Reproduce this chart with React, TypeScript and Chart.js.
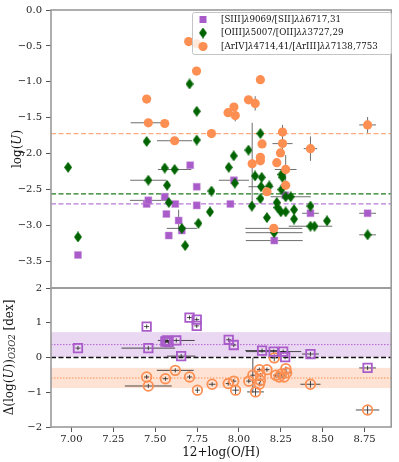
import { useEffect, useRef } from "react";
import { Chart, registerables } from "chart.js";
Chart.register(...registerables);

const FONT = "'DejaVu Serif', serif";

// ---- ticks ----
const xTicks = [7.0, 7.25, 7.5, 7.75, 8.0, 8.25, 8.5, 8.75];
const topTicks = [0, -0.5, -1, -1.5, -2, -2.5, -3, -3.5];
const bottomTicks = [2, 1, 0, -1, -2];

const legendLabels = [
  "[SIII]λ9069/[SII]λλ6717,31",
  "[OIII]λ5007/[OII]λλ3727,29",
  "[ArIV]λ4714,41/[ArIII]λλ7138,7753",
];

// ---- top panel: log(U) ----
const siiiX = [7.039, 7.449, 7.459, 7.557, 7.567, 7.581, 7.62, 7.64, 7.659, 7.709, 7.748, 7.748, 7.949, 7.97, 8.211, 8.276, 8.427, 8.768];
const siiiY = [-3.41, -2.70, -2.65, -2.60, -2.84, -3.14, -2.70, -2.93, -3.07, -2.16, -2.46, -2.72, -2.70, -2.37, -3.21, -2.58, -2.83, -2.83];
const siiiXerr = [0, 0, 0.11, 0, 0, 0, 0, 0, 0, 0, 0, 0, 0, 0.09, 0.17, 0, 0.05, 0.05];
const siiiYerr = [0, 0, 0, 0, 0, 0, 0, 0.15, 0, 0, 0, 0, 0, 0, 0, 0, 0, 0];

const oiiiX = [6.98, 7.039, 7.449, 7.459, 7.557, 7.571, 7.581, 7.616, 7.659, 7.679, 7.705, 7.748, 7.748, 7.758, 7.827, 7.836, 7.939, 7.969, 7.975, 8.057, 8.077, 8.096, 8.128, 8.128, 8.132, 8.136, 8.167, 8.181, 8.21, 8.226, 8.23, 8.25, 8.254, 8.254, 8.26, 8.279, 8.279, 8.309, 8.329, 8.329, 8.427, 8.427, 8.451, 8.526, 8.768];
const oiiiY = [-2.19, -3.16, -1.83, -2.37, -2.20, -2.44, -2.68, -2.22, -3.04, -3.28, -1.03, -1.41, -1.81, -2.97, -2.81, -2.52, -2.19, -2.03, -2.41, -1.95, -2.73, -2.31, -1.72, -2.625, -2.46, -2.33, -2.89, -2.45, -3.10, -2.68, -2.75, -2.81, -2.29, -2.50, -2.33, -2.60, -2.81, -2.60, -2.78, -2.91, -2.73, -3.01, -3.01, -2.935, -3.13];
const oiiiXerr = [0, 0, 0, 0.108, 0, 0, 0, 0.1, 0.09, 0, 0, 0, 0, 0, 0, 0, 0, 0, 0, 0, 0, 0, 0, 0, 0.075, 0, 0, 0, 0.17, 0, 0, 0, 0, 0, 0, 0, 0, 0.12, 0, 0, 0, 0.13, 0, 0, 0.05];
const oiiiYerr = [0, 0, 0, 0, 0, 0, 0, 0, 0, 0, 0, 0, 0, 0, 0, 0, 0, 0, 0, 0, 0, 0, 0, 0, 0, 0, 0, 0, 0, 0, 0, 0, 0, 0, 0, 0, 0, 0, 0, 0, 0, 0, 0, 0, 0];

const arivX = [7.70, 7.747, 7.747, 8.128, 7.449, 8.057, 8.097, 7.97, 7.935, 7.978, 7.459, 7.557, 7.836, 7.616, 8.768, 8.26, 8.138, 8.26, 8.427, 8.248, 8.128, 8.128, 8.079, 8.226, 8.279, 8.279, 8.167, 8.208];
const arivY = [-0.44, -0.47, -0.85, -0.97, -1.24, -1.25, -1.30, -1.35, -1.43, -1.47, -1.57, -1.58, -1.72, -1.82, -1.60, -1.70, -1.865, -1.86, -1.93, -1.99, -2.05, -2.10, -2.14, -2.125, -2.22, -2.44, -2.53, -3.04];
const arivXerr = [0, 0, 0, 0, 0, 0, 0, 0, 0, 0, 0.105, 0, 0, 0.105, 0.05, 0, 0, 0.06, 0.04, 0, 0, 0, 0, 0, 0.065, 0, 0, 0.17];
const arivYerr = [0, 0, 0, 0, 0, 0, 0.1, 0, 0, 0.08, 0, 0, 0, 0, 0.11, 0.1, 0, 0.15, 0.17, 0, 0, 0, 0.57, 0, 0.2, 0, 0, 0];

const meanSiii = -2.70;
const meanOiii = -2.56;
const meanAriv = -1.72;

// ---- bottom panel: Δlog(U) relative to O3O2 ----
const dSiiiX = [7.039, 7.449, 7.459, 7.561, 7.571, 7.58, 7.626, 7.655, 7.705, 7.748, 7.748, 7.939, 7.969, 8.138, 8.207, 8.264, 8.276, 8.427, 8.768];
const dSiiiY = [0.27, 0.89, 0.27, 0.46, 0.49, 0.44, 0.49, 0.04, 1.15, 1.09, 0.91, 0.51, 0.36, 0.20, 0.17, 0.17, 0.01, 0.10, -0.30];
const dSiiiXerr = [0.015, 0.015, 0.16, 0.02, 0.02, 0.02, 0.11, 0.085, 0.015, 0.015, 0.015, 0.015, 0.015, 0.1, 0.165, 0.015, 0.015, 0.05, 0.05];
const dSiiiYerr = [0.06, 0.06, 0.06, 0.06, 0.06, 0.06, 0.06, 0.06, 0.06, 0.06, 0.06, 0.06, 0.06, 0.06, 0.06, 0.06, 0.06, 0.06, 0.06];

const dArivX = [7.449, 7.459, 7.561, 7.62, 7.705, 7.752, 7.84, 7.936, 7.969, 7.98, 8.059, 8.083, 8.099, 8.122, 8.128, 8.128, 8.122, 8.167, 8.211, 8.22, 8.24, 8.254, 8.27, 8.28, 8.285, 8.427, 8.768];
const dArivY = [-0.56, -0.82, -0.61, -0.37, -0.56, -0.94, -0.77, -0.75, -0.68, -0.94, -0.68, -0.51, -0.99, -0.35, -0.51, -0.66, -0.77, -0.35, -0.01, -0.51, -0.56, -0.47, -0.56, -0.32, -0.44, -0.77, -1.51];
const dArivXerr = [0.015, 0.14, 0.015, 0.11, 0.015, 0.015, 0.02, 0.015, 0.015, 0.02, 0.015, 0.015, 0.05, 0.015, 0.015, 0.015, 0.015, 0.015, 0.015, 0.015, 0.015, 0.03, 0.015, 0.015, 0.03, 0.06, 0.07];
const dArivYerr = [0.06, 0.06, 0.06, 0.06, 0.06, 0.08, 0.06, 0.06, 0.06, 0.12, 0.06, 0.5, 0.12, 0.06, 0.06, 0.06, 0.06, 0.06, 0.1, 0.06, 0.06, 0.06, 0.06, 0.06, 0.06, 0.1, 0.12];

const offsetSiii = 0.37;
const stdSiii = 0.36;
const offsetAriv = -0.59;
const stdAriv = 0.29;

// ---- colours ----
const PURPLE = "#a95bc9";
const GREEN = "#006400";
const ORANGE = "#fd8f52";

const minus = (s: string) => s.replace("-", "\u2212");
const pts = (xs: number[], ys: number[]) => xs.map((x, i) => ({ x, y: ys[i] }));

type Run = { t: string; font: string; dy?: number };
function runsWidth(ctx: CanvasRenderingContext2D, runs: Run[]) {
  let w = 0;
  for (const r of runs) {
    ctx.font = r.font;
    w += ctx.measureText(r.t).width;
  }
  return w;
}
function drawRuns(ctx: CanvasRenderingContext2D, runs: Run[], x: number, y: number) {
  let cx = x;
  for (const r of runs) {
    ctx.font = r.font;
    ctx.fillText(r.t, cx, y + (r.dy || 0));
    cx += ctx.measureText(r.t).width;
  }
}
function lambdaRuns(text: string, size: number): Run[] {
  return text
    .split(/(λ+)/)
    .filter((s) => s.length)
    .map((s) => ({ t: s, font: (s[0] === "λ" ? "italic " : "") + `${size}px ${FONT}` }));
}

function makeDiamond(w: number, h: number, color: string) {
  const c = document.createElement("canvas");
  c.width = w;
  c.height = h;
  const g = c.getContext("2d")!;
  g.fillStyle = color;
  g.beginPath();
  g.moveTo(w / 2, 0);
  g.lineTo(w, h / 2);
  g.lineTo(w / 2, h);
  g.lineTo(0, h / 2);
  g.closePath();
  g.fill();
  return c;
}

export default function App() {
  const ref = useRef<HTMLCanvasElement>(null);

  useEffect(() => {
    document.body.style.margin = "0";
    const diamond = makeDiamond(8, 11, GREEN);

    const errGroups = [
      { xs: siiiX, ys: siiiY, xe: siiiXerr, ye: siiiYerr, axis: "y", color: "#6e6e6e", lw: 1 },
      { xs: oiiiX, ys: oiiiY, xe: oiiiXerr, ye: oiiiYerr, axis: "y", color: "#6e6e6e", lw: 1 },
      { xs: arivX, ys: arivY, xe: arivXerr, ye: arivYerr, axis: "y", color: "#6e6e6e", lw: 1 },
      { xs: dSiiiX, ys: dSiiiY, xe: dSiiiXerr, ye: dSiiiYerr, axis: "y2", color: "#222", lw: 0.8 },
      { xs: dArivX, ys: dArivY, xe: dArivXerr, ye: dArivYerr, axis: "y2", color: "#222", lw: 0.8 },
    ];

    const underlay = {
      id: "underlay",
      beforeDatasetsDraw(chart: any) {
        const ctx: CanvasRenderingContext2D = chart.ctx;
        const { left, right, top, bottom } = chart.chartArea;
        const xs = chart.scales.x;
        const y1 = chart.scales.y;
        const y2 = chart.scales.y2;
        ctx.save();
        ctx.beginPath();
        ctx.rect(left, top, right - left, bottom - top);
        ctx.clip();
        const band = (c: number, s: number, col: string) => {
          const a = y2.getPixelForValue(c + s);
          const b = y2.getPixelForValue(c - s);
          ctx.fillStyle = col;
          ctx.fillRect(left, a, right - left, b - a);
        };
        band(offsetSiii, stdSiii, "rgba(169,91,201,0.24)");
        band(offsetAriv, stdAriv, "rgba(253,143,82,0.25)");
        const hline = (scale: any, v: number, col: string, lw: number, dash: number[]) => {
          const p = scale.getPixelForValue(v);
          ctx.strokeStyle = col;
          ctx.lineWidth = lw;
          ctx.setLineDash(dash);
          ctx.beginPath();
          ctx.moveTo(left, p);
          ctx.lineTo(right, p);
          ctx.stroke();
        };
        hline(y2, offsetSiii, "#b25fd6", 1, [1.5, 1.5]);
        hline(y2, offsetAriv, "#fd8f52", 1, [1.5, 1.5]);
        hline(y2, 0, "#111", 1.3, [5, 2.5]);
        hline(y1, meanAriv, "#ffab80", 1.3, [5, 2.5]);
        hline(y1, meanOiii, "#1d7a1d", 1.2, [5, 2.5]);
        hline(y1, meanSiii, "#b97ad8", 1.3, [5, 2.5]);
        ctx.setLineDash([]);
        for (const g of errGroups) {
          const ys = chart.scales[g.axis];
          ctx.strokeStyle = g.color;
          ctx.lineWidth = g.lw;
          ctx.beginPath();
          g.xs.forEach((x, i) => {
            const y = g.ys[i];
            const px = xs.getPixelForValue(x);
            const py = ys.getPixelForValue(y);
            if (g.xe[i] > 0) {
              ctx.moveTo(xs.getPixelForValue(x - g.xe[i]), py);
              ctx.lineTo(xs.getPixelForValue(x + g.xe[i]), py);
            }
            if (g.ye[i] > 0) {
              ctx.moveTo(px, ys.getPixelForValue(y - g.ye[i]));
              ctx.lineTo(px, ys.getPixelForValue(y + g.ye[i]));
            }
          });
          ctx.stroke();
        }
        ctx.restore();
      },
    };

    const overlay = {
      id: "overlay",
      afterDraw(chart: any) {
        const ctx: CanvasRenderingContext2D = chart.ctx;
        const { left, right } = chart.chartArea;
        const y1 = chart.scales.y;
        const y2 = chart.scales.y2;
        ctx.save();
        ctx.strokeStyle = "#9a9a9a";
        ctx.lineWidth = 1.6;
        ctx.strokeRect(left, y1.top, right - left, y1.bottom - y1.top);
        ctx.strokeRect(left, y2.top, right - left, y2.bottom - y2.top);

        ctx.fillStyle = "#111";
        ctx.textBaseline = "middle";
        const f = `12px ${FONT}`;
        const fi = `italic 12px ${FONT}`;
        const t1: Run[] = [
          { t: "log(", font: f },
          { t: "U", font: fi },
          { t: ")", font: f },
        ];
        const t2: Run[] = [
          { t: "Δ(log(", font: f },
          { t: "U", font: fi },
          { t: "))", font: f },
          { t: "O3O2", font: `italic 8.5px ${FONT}`, dy: 3 },
          { t: " [dex]", font: f },
        ];
        const rot = (runs: Run[], cx: number, cy: number) => {
          ctx.save();
          ctx.translate(cx, cy);
          ctx.rotate(-Math.PI / 2);
          const w = runsWidth(ctx, runs);
          drawRuns(ctx, runs, -w / 2, 0);
          ctx.restore();
        };
        rot(t1, 18, (y1.top + y1.bottom) / 2);
        rot(t2, 10, (y2.top + y2.bottom) / 2);

        const bx = 192, by = 12, bw = 199, bh = 42;
        ctx.fillStyle = "rgba(255,255,255,0.8)";
        ctx.strokeStyle = "#c4c4c4";
        ctx.lineWidth = 1;
        ctx.beginPath();
        (ctx as any).roundRect(bx + 0.5, by + 0.5, bw, bh, 2);
        ctx.fill();
        ctx.stroke();
        const rows = [by + 7.5, by + 21, by + 34.5];
        const mx = 203;
        ctx.fillStyle = PURPLE;
        ctx.fillRect(mx - 3.5, rows[0] - 3.5, 7, 7);
        ctx.drawImage(diamond, mx - 4, rows[1] - 5.5);
        ctx.fillStyle = ORANGE;
        ctx.beginPath();
        ctx.arc(mx, rows[2], 4.6, 0, Math.PI * 2);
        ctx.fill();
        ctx.fillStyle = "#111";
        ctx.textBaseline = "middle";
        legendLabels.forEach((lab, i) => drawRuns(ctx, lambdaRuns(lab, 8.7), 221, rows[i]));
        ctx.restore();
      },
    };

    const tickFont = { family: FONT, size: 10 };
    const grid = { drawOnChartArea: false, tickLength: 5, color: "#555", lineWidth: 1 };

    const chart = new Chart(ref.current!, {
      type: "scatter",
      data: {
        datasets: [
          {
            label: legendLabels[2],
            data: pts(arivX, arivY),
            yAxisID: "y",
            pointStyle: "circle",
            pointRadius: 4.6,
            backgroundColor: ORANGE,
            borderWidth: 0,
            order: 0,
          },
          {
            label: legendLabels[1],
            data: pts(oiiiX, oiiiY),
            yAxisID: "y",
            pointStyle: diamond,
            pointRadius: 5,
            backgroundColor: GREEN,
            borderWidth: 0,
            order: 1,
          },
          {
            label: legendLabels[0],
            data: pts(siiiX, siiiY),
            yAxisID: "y",
            pointStyle: "rect",
            pointRadius: 5,
            backgroundColor: PURPLE,
            borderColor: "rgba(200,150,220,0.8)",
            borderWidth: 0.6,
            order: 2,
          },
          {
            label: "ΔSIII",
            data: pts(dSiiiX, dSiiiY),
            yAxisID: "y2",
            pointStyle: "rect",
            pointRadius: 6,
            backgroundColor: "rgba(0,0,0,0)",
            borderColor: PURPLE,
            borderWidth: 1.8,
            order: 3,
          },
          {
            label: "ΔArIV",
            data: pts(dArivX, dArivY),
            yAxisID: "y2",
            pointStyle: "circle",
            pointRadius: 4.8,
            backgroundColor: "rgba(0,0,0,0)",
            borderColor: ORANGE,
            borderWidth: 1.8,
            order: 4,
          },
        ] as any,
      },
      options: {
        responsive: false,
        animation: false,
        devicePixelRatio: 1,
        layout: { padding: { top: 7, right: 4, left: 0, bottom: 0 } },
        plugins: { legend: { display: false }, tooltip: { enabled: false } },
        scales: {
          x: {
            type: "linear",
            min: 6.878,
            max: 8.909,
            afterBuildTicks: (s: any) => {
              s.ticks = xTicks.map((v) => ({ value: v }));
            },
            afterFit: (s: any) => {
              s.height = 35;
            },
            ticks: {
              callback: (v: any) => Number(v).toFixed(2),
              font: tickFont,
              color: "#222",
              padding: 1,
              maxRotation: 0,
              autoSkip: false,
            },
            grid,
            border: { display: false },
            title: {
              display: true,
              text: "12+log(O/H)",
              font: { family: FONT, size: 12 },
              color: "#111",
              padding: { top: 0, bottom: 2 },
            },
          },
          y2: {
            type: "linear",
            position: "left",
            stack: "v",
            stackWeight: 1,
            min: -2,
            max: 2,
            afterBuildTicks: (s: any) => {
              s.ticks = bottomTicks.map((v) => ({ value: v }));
            },
            afterFit: (s: any) => {
              s.width = 51;
            },
            ticks: {
              callback: (v: any) => minus(String(Number(v))),
              font: tickFont,
              color: "#222",
              padding: 4,
              autoSkip: false,
            },
            grid,
            border: { display: false },
          },
          y: {
            type: "linear",
            position: "left",
            stack: "v",
            stackWeight: 2,
            min: -3.87,
            max: 0,
            afterBuildTicks: (s: any) => {
              s.ticks = topTicks.map((v) => ({ value: v }));
            },
            afterFit: (s: any) => {
              s.width = 51;
            },
            ticks: {
              callback: (v: any) => minus(Number(v).toFixed(1)),
              font: tickFont,
              color: "#222",
              padding: 4,
              autoSkip: false,
            },
            grid,
            border: { display: false },
          },
        },
      } as any,
      plugins: [underlay, overlay],
    });
    return () => chart.destroy();
  }, []);

  return (
    <canvas
      ref={ref}
      width={399}
      height={462}
      style={{ display: "block", width: "399px", height: "462px" }}
    />
  );
}
